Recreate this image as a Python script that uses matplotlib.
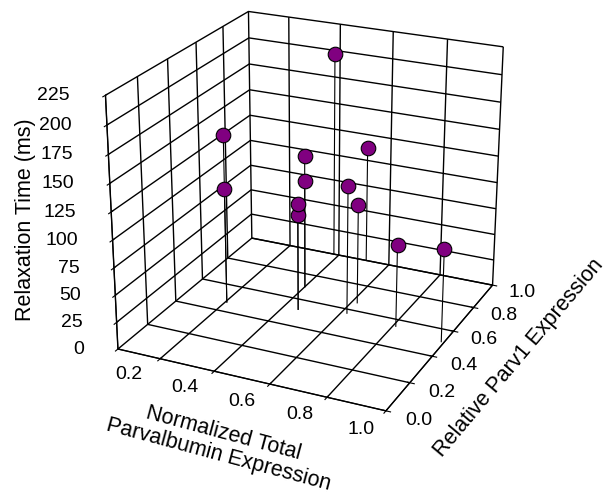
import matplotlib
matplotlib.use('Agg')
import matplotlib.pyplot as plt

plt.rcParams['font.family'] = ['Liberation Sans', 'DejaVu Sans']
plt.rcParams['grid.color'] = 'black'
plt.rcParams['grid.linewidth'] = 1.0
plt.rcParams['grid.alpha'] = 1.0

# values
total_pv = [0.205, 0.205, 0.40, 0.40, 0.455, 0.455, 0.38, 0.62, 0.62, 0.51, 0.81, 0.99]
parv1 = [0.47, 0.47, 0.70, 0.70, 0.525, 0.525, 1.0, 0.57, 0.66, 1.0, 0.55, 0.51]
relax_ms = [158, 108, 126, 103, 100, 90, 197, 120, 94, 112, 77, 86]

x_ticks = [0.2, 0.4, 0.6, 0.8, 1.0]
y_ticks = [0.0, 0.2, 0.4, 0.6, 0.8, 1.0]
z_ticks = [0, 25, 50, 75, 100, 125, 150, 175, 200, 225]
x_lim = (0.04, 1.0)
y_lim = (0.0, 1.0)
z_lim = (0, 225)

W, H = 611, 496
fig = plt.figure(figsize=(W / 100, H / 100), dpi=100)
ax = fig.add_axes([0.0, 0.09, 1.0, 1.0], projection='3d', computed_zorder=False)
ax.set_proj_type('persp', focal_length=0.65)
ax.view_init(elev=23, azim=-65)
ax.set_box_aspect((0.95, 0.97, 0.88), zoom=0.96)

ax.set_xlim(*x_lim)
ax.set_ylim(*y_lim)
ax.set_zlim(*z_lim)

ax.set_xticks(x_ticks)
ax.set_yticks(y_ticks)
ax.set_zticks(z_ticks)
ax.set_xticklabels([])
ax.set_yticklabels([])
ax.set_zticklabels([])
ax.zaxis.set_ticks_position('lower')

for axis in (ax.xaxis, ax.yaxis, ax.zaxis):
    axis.set_tick_params(labelbottom=False, labeltop=False, labelsize=1)
    axis.set_pane_color((1, 1, 1, 0))
    axis.pane.set_edgecolor('black')
    axis.pane.set_linewidth(1.0)
    axis.line.set_color('black')

# tick labels, placed just outside the box edges
for t in x_ticks:
    ax.text(t, y_lim[0] - 0.20, 10, f'{t:.1f}', ha='center', va='center', fontsize=14)
for t in y_ticks:
    ax.text(x_lim[1] + 0.11, t, -2, f'{t:.1f}', ha='center', va='center', fontsize=14)
for t in z_ticks:
    ax.text(x_lim[0] - 0.10, y_lim[0] - 0.05, t, str(t), ha='right', va='center', fontsize=14)


def px_text(x, y, s, rot):
    fig.text(x / W, 1 - y / H, s, rotation=rot, rotation_mode='anchor',
             ha='center', va='center', multialignment='center',
             fontsize=15.5, linespacing=1.05)


px_text(221, 444, 'Normalized Total\nParvalbumin Expression', -15)
px_text(519, 358, 'Relative Parv1 Expression', 50)
px_text(25, 220, 'Relaxation Time (ms)', 90)

# drop lines to the floor
for x, y, z in zip(total_pv, parv1, relax_ms):
    ax.plot([x, x], [y, y], [0, z], color='black', linewidth=0.8, zorder=2)

ax.scatter(total_pv, parv1, relax_ms, s=110, c='#800080', edgecolors='black',
           linewidths=0.8, depthshade=False, zorder=3)

fig.savefig('out.png', dpi=100)
